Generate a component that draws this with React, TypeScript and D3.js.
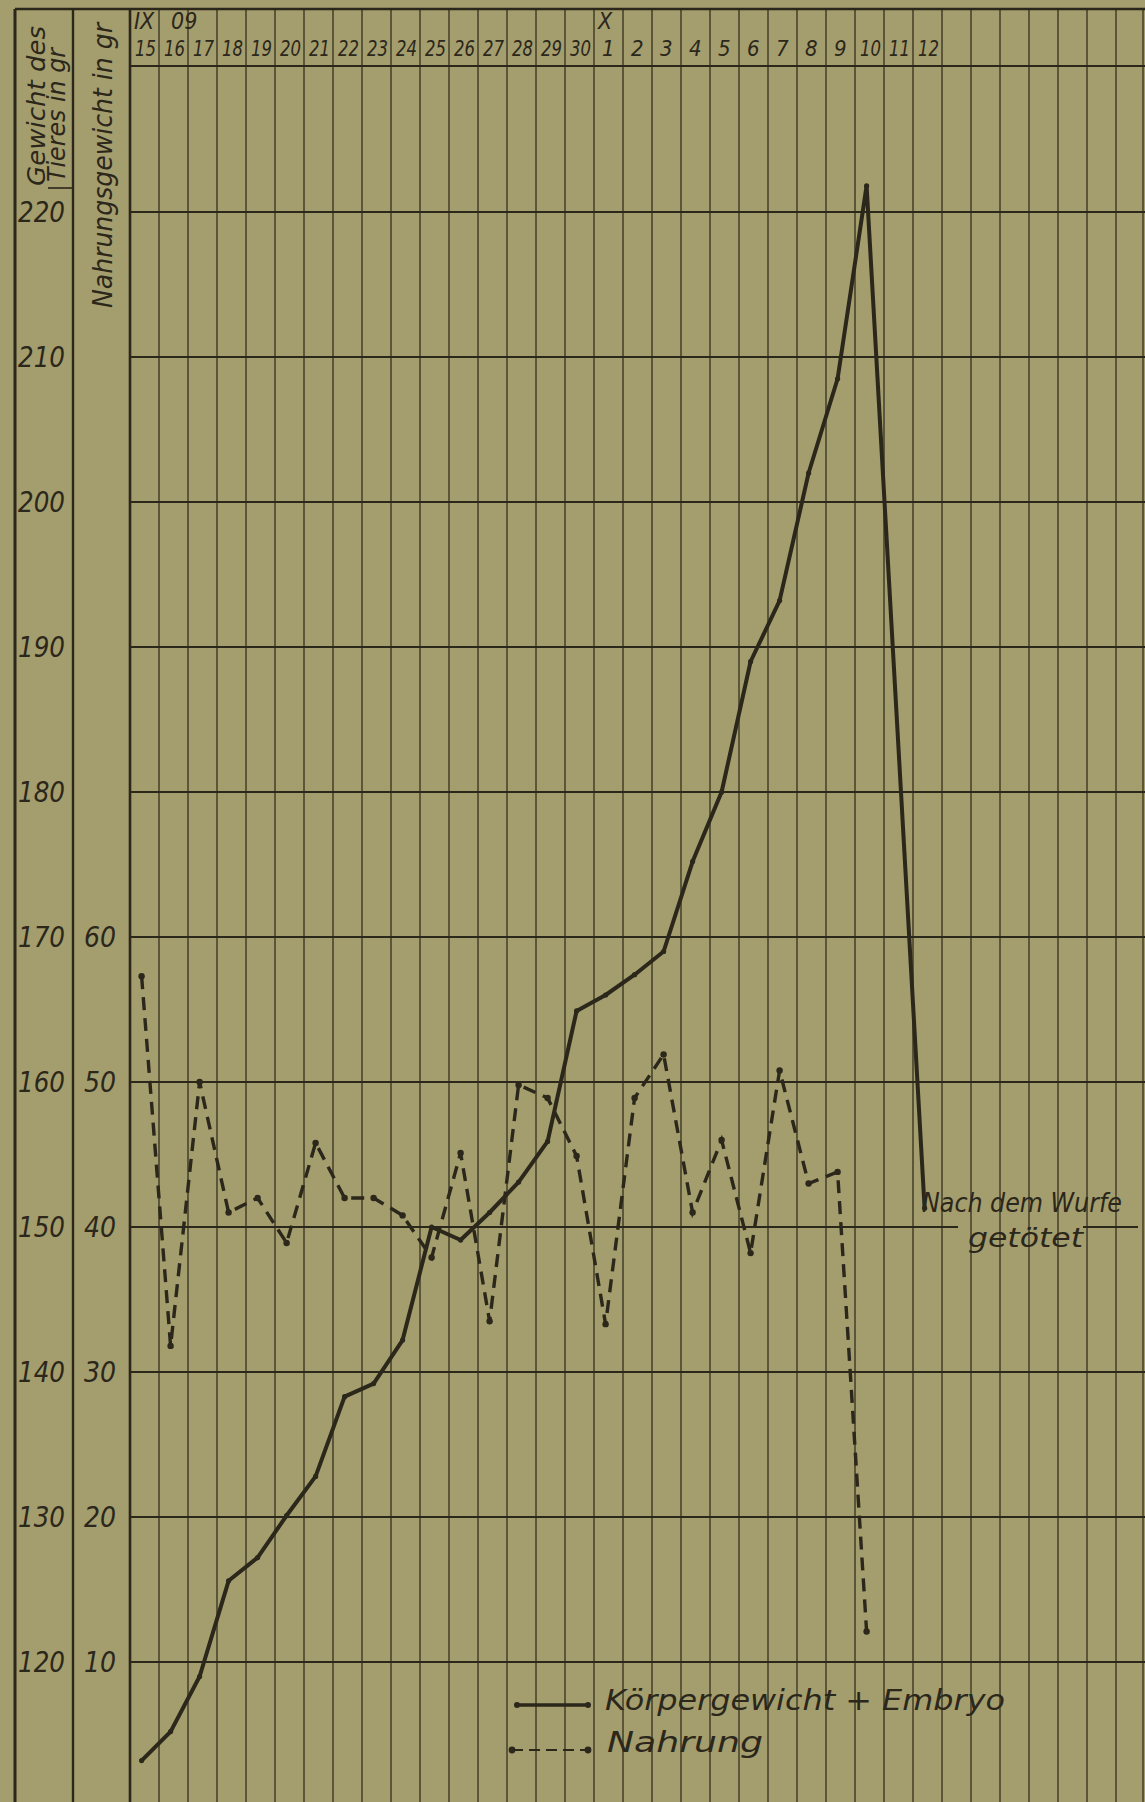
import * as d3 from "d3";

const W = 1145;
const H = 1802;

// header: day of month for every column (15 Sep .. 12 Oct 1909)
const dayLabels = [
  "15", "16", "17", "18", "19", "20", "21", "22", "23", "24", "25", "26", "27", "28", "29", "30",
  "1", "2", "3", "4", "5", "6", "7", "8", "9", "10", "11", "12",
];
const monthLabels = [
  { col: 0, text: "IX" },
  { col: 1, text: "09" },
  { col: 16, text: "X" },
];

const weightTicks = [120, 130, 140, 150, 160, 170, 180, 190, 200, 210, 220];
const foodTicks = [10, 20, 30, 40, 50, 60];

// Körpergewicht + Embryo (gr), one value per day, null = not measured
const bodyWeight = [
  113.2, 115.2, 119.0, 125.6, 127.2, 130.1, 132.8, 138.3, 139.2, 142.2, 150.0, 149.1, 151.0, 153.1,
  155.9, 164.9, 166.0, 167.4, 169.0, 175.2, 180.0, 189.0, 193.2, 202.0, 208.5, 221.8, null, 151.3,
];
// Nahrung (gr)
const food = [
  57.3, 31.8, 50.0, 41.0, 42.0, 38.9, 45.8, 42.0, 42.0, 40.8, 37.9, 45.1, 33.5, 49.8,
  48.9, 44.9, 33.3, 48.9, 51.9, 41.0, 46.0, 38.2, 50.8, 43.0, 43.8, 12.1, null, null,
];

const NCOL = 35;
const PAPER = "#a49d6e";
const INK = "#2b271a";
const FONT = "'DejaVu Sans Condensed', 'DejaVu Sans', sans-serif";

type Pt = { i: number; v: number };

export default function App() {
  const x = d3.scaleLinear().domain([0, NCOL]).range([130, 1145]);
  const yW = d3.scaleLinear().domain([110, 220]).range([1807, 212]);
  const yF = d3.scaleLinear().domain([0, 110]).range([1807, 212]);

  const headerTop = 9;
  const headerBottom = 66;
  const px = (i: number) => x(i + 0.4);

  const weightPts: Pt[] = bodyWeight
    .map((v, i) => ({ i, v: v as number }))
    .filter((d) => d.v != null);
  const foodPts: Pt[] = food
    .map((v, i) => ({ i, v: v as number }))
    .filter((d) => d.v != null);

  const weightLine = d3
    .line<Pt>()
    .x((d) => px(d.i))
    .y((d) => yW(d.v));
  const foodLine = d3
    .line<Pt>()
    .x((d) => px(d.i))
    .y((d) => yF(d.v));

  const textStyle = {
    fontFamily: FONT,
    fontStyle: "italic" as const,
    fill: INK,
  };

  return (
    <svg
      width={W}
      height={H}
      style={{ position: "absolute", left: 0, top: 0, display: "block" }}
    >
      <rect x={0} y={0} width={W} height={H} fill={PAPER} />

      {/* vertical day columns */}
      {d3.range(0, NCOL + 1).map((i) => (
        <line
          key={"v" + i}
          x1={Math.min(x(i), W - 2)}
          x2={Math.min(x(i), W - 2)}
          y1={headerTop}
          y2={H}
          stroke={INK}
          strokeWidth={i === 0 ? 2.6 : 1.5}
          opacity={i === 0 ? 1 : 0.8}
        />
      ))}

      {/* horizontal lines, 150 broken for the note */}
      {weightTicks.map((t) =>
        t === 150 ? (
          <g key={"h" + t}>
            <line x1={x(0)} x2={958} y1={yW(t)} y2={yW(t)} stroke={INK} strokeWidth={2.2} />
            <line x1={1083} x2={1138} y1={yW(t)} y2={yW(t)} stroke={INK} strokeWidth={2.2} />
          </g>
        ) : (
          <line key={"h" + t} x1={x(0)} x2={W} y1={yW(t)} y2={yW(t)} stroke={INK} strokeWidth={2.2} />
        )
      )}

      {/* frame */}
      <line x1={15} x2={W} y1={headerTop} y2={headerTop} stroke={INK} strokeWidth={2.6} />
      <line x1={x(0)} x2={W} y1={headerBottom} y2={headerBottom} stroke={INK} strokeWidth={2.2} />
      <line x1={15} x2={15} y1={headerTop} y2={H} stroke={INK} strokeWidth={3} />
      <line x1={73} x2={73} y1={headerTop} y2={H} stroke={INK} strokeWidth={2.4} />
      <line x1={48} x2={73} y1={188} y2={188} stroke={INK} strokeWidth={1.6} />

      {/* axis titles */}
      <text transform="translate(45,186) rotate(-90)" fontSize={25} textLength={160} lengthAdjust="spacingAndGlyphs" style={textStyle}>
        Gewicht des
      </text>
      <text transform="translate(65,182) rotate(-90)" fontSize={25} textLength={134} lengthAdjust="spacingAndGlyphs" style={textStyle}>
        Tieres in gr
      </text>
      <text transform="translate(112,308) rotate(-90)" fontSize={26} textLength={285} lengthAdjust="spacingAndGlyphs" style={textStyle}>
        Nahrungsgewicht in gr
      </text>

      {/* tick labels */}
      {weightTicks.map((t) => (
        <text key={"wl" + t} x={18} y={yW(t)} dy="0.36em" fontSize={28} textLength={47} lengthAdjust="spacingAndGlyphs" style={textStyle}>
          {t}
        </text>
      ))}
      {foodTicks.map((t) => (
        <text key={"fl" + t} x={116} y={yF(t)} dy="0.36em" fontSize={28} textAnchor="end" style={textStyle}>
          {t}
        </text>
      ))}

      {/* header labels */}
      {monthLabels.map((m) => (
        <text
          key={"m" + m.text}
          x={x(m.col) + (m.col === 1 ? 12 : 4)}
          y={29}
          fontSize={23}
          style={textStyle}
        >
          {m.text}
        </text>
      ))}
      {dayLabels.map((d, i) => (
        <text
          key={"d" + i}
          x={x(i) + (d.length === 2 ? 5 : 8)}
          y={56}
          fontSize={22}
          textLength={d.length === 2 ? 21 : undefined}
          lengthAdjust="spacingAndGlyphs"
          style={textStyle}
        >
          {d}
        </text>
      ))}

      {/* Nahrung */}
      <path d={foodLine(foodPts) ?? ""} fill="none" stroke={INK} strokeWidth={3.4} strokeDasharray="13 8" />
      {foodPts.map((d) => (
        <circle key={"fp" + d.i} cx={px(d.i)} cy={yF(d.v)} r={3.2} fill={INK} />
      ))}

      {/* Körpergewicht + Embryo */}
      <path d={weightLine(weightPts) ?? ""} fill="none" stroke={INK} strokeWidth={4} strokeLinejoin="round" />
      {weightPts.map((d) => (
        <circle key={"wp" + d.i} cx={px(d.i)} cy={yW(d.v)} r={2.6} fill={INK} />
      ))}

      {/* note after the peak */}
      <text x={922} y={1212} fontSize={26} textLength={200} lengthAdjust="spacingAndGlyphs" style={textStyle}>
        Nach dem Wurfe
      </text>
      <text x={968} y={1247} fontSize={26} textLength={115} lengthAdjust="spacingAndGlyphs" style={textStyle}>
        getötet
      </text>

      {/* legend */}
      <line x1={517} x2={588} y1={1705} y2={1705} stroke={INK} strokeWidth={3.6} />
      <circle cx={517} cy={1705} r={3} fill={INK} />
      <circle cx={588} cy={1705} r={3} fill={INK} />
      <text x={605} y={1710} fontSize={28} textLength={400} lengthAdjust="spacingAndGlyphs" style={textStyle}>
        Körpergewicht + Embryo
      </text>
      <line x1={512} x2={588} y1={1750} y2={1750} stroke={INK} strokeWidth={2} strokeDasharray="11 6" />
      <circle cx={512} cy={1750} r={3.4} fill={INK} />
      <circle cx={588} cy={1750} r={3.4} fill={INK} />
      <text x={607} y={1752} fontSize={28} textLength={156} lengthAdjust="spacingAndGlyphs" style={textStyle}>
        Nahrung
      </text>
    </svg>
  );
}
